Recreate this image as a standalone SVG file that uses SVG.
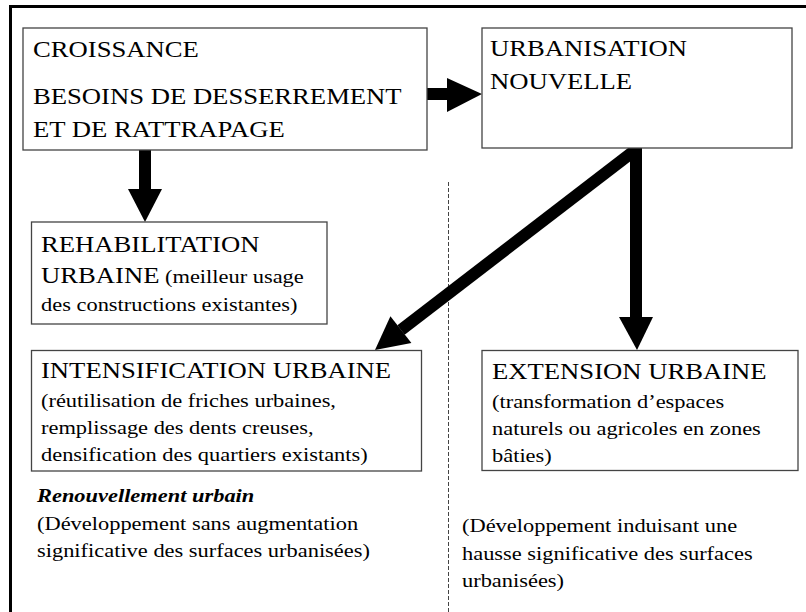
<svg xmlns="http://www.w3.org/2000/svg" width="806" height="612" viewBox="0 0 806 612">
<style>
text { font-family: "Liberation Serif", "Times New Roman", serif; fill: #000; }
.h { font-size: 22.4px; }
.s { font-size: 19.5px; }
.bi { font-size: 19.5px; font-weight: bold; font-style: italic; }
.box { fill: #fff; stroke: #444; stroke-width: 1.3; }
.shaft { stroke: #000; stroke-width: 12; fill: none; }
.head { fill: #000; }
</style>
<rect x="0" y="0" width="806" height="612" fill="#fff"/>
<g id="frame">
  <line x1="10" y1="6.5" x2="806" y2="6.5" stroke="#000" stroke-width="3"/>
  <line x1="10.5" y1="5" x2="10.5" y2="612" stroke="#000" stroke-width="3"/>
  <line x1="448.5" y1="182" x2="448.5" y2="612" stroke="#444" stroke-width="1" stroke-dasharray="4 2"/>
</g>
<g id="connectors">
  <line class="shaft" x1="145" y1="150" x2="145" y2="190"/>
  <polygon class="head" points="128,189 162,189 145,222"/>
  <line class="shaft" x1="427" y1="94" x2="448" y2="94"/>
  <polygon class="head" points="447,78 447,112 482,94"/>
  <line class="shaft" x1="636" y1="148" x2="636" y2="318"/>
  <polygon class="head" points="619,317 653,317 637,350"/>
  <line class="shaft" x1="634" y1="151" x2="401" y2="330"/>
  <polygon class="head" points="390.4,316.2 411.4,343 375,350"/>
</g>
<g id="croissance">
  <rect class="box" x="23" y="28" width="404" height="122"/>
  <text class="h" transform="translate(33 57) scale(1.19 1)">CROISSANCE</text>
  <text class="h" transform="translate(33 104) scale(1.19 1)">BESOINS DE DESSERREMENT</text>
  <text class="h" transform="translate(33 137) scale(1.19 1)">ET DE RATTRAPAGE</text>
</g>
<g id="urbanisation">
  <rect class="box" x="482" y="28" width="310" height="120"/>
  <text class="h" transform="translate(490 56) scale(1.19 1)">URBANISATION</text>
  <text class="h" transform="translate(490 89) scale(1.19 1)">NOUVELLE</text>
</g>
<g id="rehabilitation">
  <rect class="box" x="31.5" y="222" width="295.5" height="102"/>
  <text class="h" transform="translate(41 252) scale(1.19 1)">REHABILITATION</text>
  <text class="h" transform="translate(41 283) scale(1.19 1)">URBAINE</text>
  <text class="s" transform="translate(165 283) scale(1.15 1)">(meilleur usage</text>
  <text class="s" transform="translate(41 311) scale(1.15 1)">des constructions existantes)</text>
</g>
<g id="intensification">
  <rect class="box" x="31.5" y="350.5" width="390" height="120.5"/>
  <text class="h" transform="translate(41 378) scale(1.19 1)">INTENSIFICATION URBAINE</text>
  <text class="s" transform="translate(41 407) scale(1.15 1)">(réutilisation de friches urbaines,</text>
  <text class="s" transform="translate(41 434) scale(1.15 1)">remplissage des dents creuses,</text>
  <text class="s" transform="translate(41 461) scale(1.15 1)">densification des quartiers existants)</text>
</g>
<g id="extension">
  <rect class="box" x="482" y="350.5" width="316" height="120"/>
  <text class="h" transform="translate(492 379) scale(1.19 1)">EXTENSION URBAINE</text>
  <text class="s" transform="translate(492 408) scale(1.15 1)">(transformation d’espaces</text>
  <text class="s" transform="translate(492 435) scale(1.15 1)">naturels ou agricoles en zones</text>
  <text class="s" transform="translate(492 462) scale(1.15 1)">bâties)</text>
</g>
<g id="renouvellement">
  <text class="bi" transform="translate(37 502) scale(1.15 1)">Renouvellement urbain</text>
  <text class="s" transform="translate(37 530) scale(1.15 1)">(Développement sans augmentation</text>
  <text class="s" transform="translate(37 557) scale(1.15 1)">significative des surfaces urbanisées)</text>
</g>
<g id="developpement">
  <text class="s" transform="translate(462 532) scale(1.15 1)">(Développement induisant une</text>
  <text class="s" transform="translate(462 560) scale(1.15 1)">hausse significative des surfaces</text>
  <text class="s" transform="translate(462 587) scale(1.15 1)">urbanisées)</text>
</g>
</svg>
